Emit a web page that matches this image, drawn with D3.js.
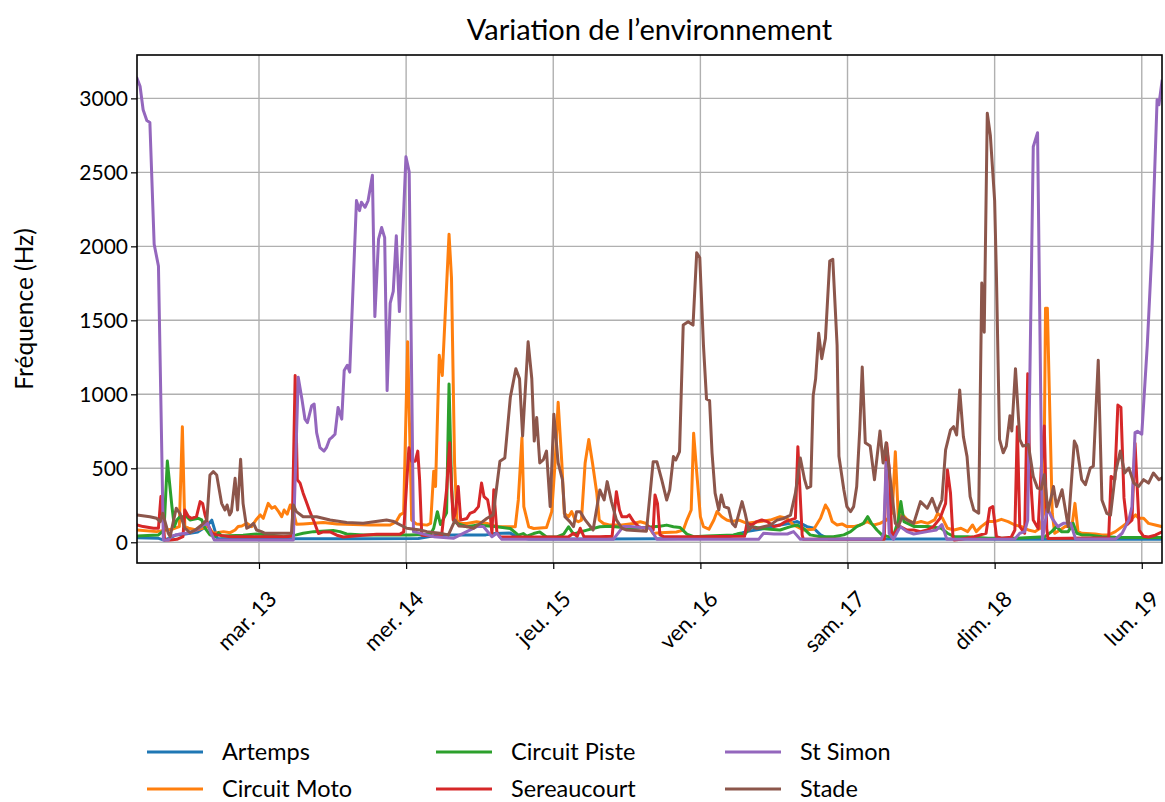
<!DOCTYPE html>
<html>
<head>
<meta charset="utf-8">
<script src="https://cdn.jsdelivr.net/npm/d3@7"></script>
<style>
body{margin:0;background:#fff;}
text{font-family:Lato,"DejaVu Sans",sans-serif;fill:#000;}
</style>
</head>
<body>
<div id="chart"></div>
<script>
// hours since lun. 12 mars 2018 00:00, value in Hz
const artemps=[[4.1,30],[7.5,28],[8.5,15],[9.5,30],[10.5,50],[12,56],[14,70],[15.5,110],[16.3,150],[16.8,80],[17.2,25],[20,22],[28,22],[30,24],[40,24],[50,26],[53,48],[56,50],[61,50],[62.5,60],[65,62],[66,38],[68,22],[80,22],[90,24],[100,30],[103.5,72],[106,90],[108,110],[110.7,128],[111.8,140],[113.4,106],[114.5,95],[115.6,50],[117,22],[130,22],[140,22],[150,20],[160,20],[171.3,20]];
const circuitMoto=[[4.1,83],[7.3,72],[10,90],[11,106],[11.5,781],[11.9,106],[12.5,95],[13.8,83],[15.7,106],[16.55,61],[18.2,72],[19.3,65],[20.1,83],[20.6,106],[21.2,110],[22,128],[22.8,106],[23.5,151],[24.2,185],[24.7,162],[25.5,263],[26.1,230],[26.6,241],[27.2,207],[27.7,173],[28.1,218],[28.6,190],[29.1,252],[29.6,207],[30.1,122],[31.2,124],[34.5,133],[36.7,124],[42.1,117],[45.4,117],[46.4,140],[47,185],[47.6,200],[48.25,1355],[48.9,150],[49.7,123],[51.4,116],[52,127],[52.5,480],[52.8,377],[53.4,1264],[53.9,1127],[54.4,1559],[55,2082],[55.4,1787],[55.9,536],[56.3,150],[56.8,127],[57.9,127],[59.5,139],[61.2,127],[62.8,105],[65.8,105],[66.3,286],[66.9,707],[67.2,241],[68,105],[68.8,93],[70.9,100],[71.75,207],[72.3,536],[72.8,946],[73.4,536],[73.8,195],[74.5,173],[75,207],[75.6,150],[76.1,139],[76.6,150],[77.2,536],[77.8,695],[78.4,536],[79.1,332],[79.5,150],[80.2,127],[81.3,116],[82.9,116],[85.1,127],[86.2,139],[87.2,127],[88.3,59],[89.4,64],[92.1,70],[93.2,82],[93.8,150],[94.5,218],[94.9,736],[95.5,423],[96,173],[96.5,106],[97.4,88],[98.2,151],[98.7,207],[99.5,173],[100.3,151],[101.2,140],[102.3,150],[103.6,128],[105.8,140],[107.4,150],[109,173],[110.1,162],[111.2,117],[112.8,83],[114.5,88],[115.6,162],[116.4,252],[116.9,218],[117.5,140],[118.3,117],[119.1,124],[119.9,106],[121,106],[122.1,117],[123.2,140],[124.3,117],[125.3,128],[126.4,151],[127.3,200],[127.8,612],[128.3,151],[128.9,190],[129.8,151],[130.9,128],[132,140],[133.1,128],[134.2,151],[134.7,196],[135.5,162],[136.3,95],[137.4,83],[138.5,95],[139.6,72],[140.4,117],[141,72],[141.8,106],[142.9,140],[144,140],[145.1,155],[146.2,140],[147.3,117],[148.4,106],[149.5,83],[150.6,72],[151.4,95],[152,195],[152.3,1582],[152.6,1582],[153,877],[153.4,195],[153.8,61],[154.7,83],[155.5,106],[156.6,106],[157.1,263],[157.6,72],[158.2,61],[160.4,56],[161.5,50],[162.6,50],[163.7,72],[164.8,106],[165.9,140],[167,185],[167.5,162],[168.3,162],[169.1,128],[170.2,117],[171.3,106]];
const circuitPiste=[[4.1,43],[7.6,50],[8.5,80],[9.05,549],[9.8,241],[10.2,106],[10.6,151],[11.1,173],[12.2,173],[12.75,151],[14.1,162],[14.65,151],[15.2,95],[16,50],[16.8,38],[17.4,65],[17.9,43],[21.4,47],[23.6,56],[25.8,50],[28,38],[30.1,50],[31.2,61],[32.9,72],[36.1,79],[37.2,72],[38.3,56],[41,50],[48.6,50],[52,55],[52.5,95],[53.1,207],[53.6,120],[54.6,200],[55,1070],[55.4,400],[55.7,150],[56.3,127],[57.9,105],[59.5,116],[62.8,105],[65,93],[66.3,48],[67.1,59],[67.7,41],[68.8,59],[69.8,70],[70.9,36],[72.6,36],[73.7,55],[74.5,105],[75.3,55],[76.4,70],[77.5,82],[79.6,105],[81.3,109],[85.1,93],[88.3,105],[89.4,109],[90.5,116],[91.6,105],[92.7,100],[93.8,55],[94.9,38],[97.1,43],[101.4,50],[102.5,61],[103.1,45],[104.2,106],[105.8,95],[107.4,88],[109,83],[110.7,106],[111.8,117],[112.8,95],[113.9,50],[115.6,38],[117.7,38],[119.4,50],[120.5,72],[121.5,106],[122.6,128],[123.3,173],[123.9,128],[124.8,83],[125.6,50],[126.7,38],[127.5,45],[128.3,150],[128.7,275],[129.2,140],[130.9,106],[133.1,106],[135.3,95],[136.3,61],[137.4,38],[139.6,38],[142.9,27],[147.3,27],[150.6,34],[152.2,38],[153.3,72],[154.1,106],[154.9,72],[156,72],[156.8,128],[157.4,61],[158.2,50],[159.3,50],[161.5,38],[163.7,34],[167,32],[171.3,32]];
const sereaucourt=[[4.1,117],[5.1,106],[6.8,95],[7.6,95],[8,309],[8.3,196],[8.6,16],[9.5,16],[10.6,20],[11.6,38],[11.9,218],[12.5,173],[13,162],[13.8,173],[14.4,275],[14.8,263],[15.2,185],[15.7,117],[16.3,61],[17.1,50],[19.3,38],[23.6,38],[28.5,38],[29.4,43],[29.9,1127],[30.25,423],[30.7,400],[31.2,332],[31.7,275],[32.3,207],[33.1,127],[33.7,59],[34.5,70],[35.6,70],[36.7,48],[37.75,36],[41,48],[43.2,55],[47,55],[47.6,70],[48.45,639],[48.9,548],[49.5,548],[49.9,616],[50.2,423],[50.55,48],[53,41],[53.8,48],[54.6,355],[55.1,673],[55.4,355],[55.7,150],[56,195],[56.5,377],[56.9,150],[57.9,161],[58.4,195],[59.1,207],[59.8,241],[60.3,400],[60.7,309],[61.3,286],[61.7,195],[62,59],[62.3,355],[62.8,70],[63.3,36],[74,36],[74.5,38],[75.3,61],[75.9,40],[76.4,95],[77,38],[79.6,38],[81.6,40],[82.3,342],[82.8,218],[83.2,173],[84,173],[84.4,185],[85.1,140],[85.9,106],[86.7,95],[87.5,106],[88.3,83],[88.6,320],[89,263],[89.4,50],[90,38],[95.9,38],[103.2,40],[103.6,128],[104.4,117],[105.2,140],[106,151],[106.9,140],[108,106],[109,117],[109.9,140],[110.7,151],[111.5,162],[111.9,646],[112.3,300],[112.6,50],[112.8,20],[126,20],[126.4,669],[126.8,500],[127.2,40],[128.6,106],[129.7,83],[130.8,83],[131.9,72],[133,83],[134,106],[135.1,162],[136,263],[136.3,489],[136.8,331],[137.2,38],[137.4,16],[138.5,20],[140.7,38],[142.6,61],[143.2,230],[143.7,241],[144.3,38],[145.1,27],[146.7,34],[147.3,83],[147.7,781],[148.1,106],[148.9,61],[149.4,1139],[149.7,536],[150.3,150],[151.1,93],[151.6,500],[152.1,786],[152.5,93],[152.7,25],[162.6,30],[163,445],[163.6,423],[164.1,927],[164.6,911],[165.1,300],[165.6,120],[166.4,150],[166.9,670],[167.6,80],[168.3,40],[169.1,36],[170.2,48],[171.3,70]];
const stSimon=[[4.1,3135],[4.6,3082],[5.1,2923],[5.7,2850],[6.2,2837],[6.9,2014],[7.6,1866],[8.4,15],[9.2,15],[9.8,43],[11.1,56],[12.7,65],[13.8,83],[14.9,117],[15.6,128],[16.2,60],[16.7,16],[29.6,16],[30.4,1116],[31,968],[31.5,832],[31.9,809],[32.6,923],[33,934],[33.4,741],[33.95,639],[34.6,616],[35,639],[35.5,695],[35.85,707],[36.4,730],[36.9,911],[37.5,832],[37.9,1161],[38.4,1196],[38.8,1150],[39.9,2309],[40.4,2241],[40.7,2298],[41.3,2264],[41.8,2309],[42.5,2480],[42.9,1525],[43.5,2048],[44,2127],[44.5,2059],[44.9,1025],[45.4,1616],[45.9,1696],[46.4,2071],[46.9,1559],[47.4,2037],[47.97,2605],[48.5,2503],[49.2,72],[52.5,38],[55.7,27],[59.5,106],[60.6,106],[62,38],[62.8,61],[63.6,20],[81.8,20],[83.4,106],[84.5,106],[87.8,95],[88.9,20],[105.5,20],[106.3,61],[108,56],[110.2,56],[111.2,72],[112.3,20],[125.5,20],[125.9,60],[126.3,540],[126.8,60],[127.5,20],[128.6,106],[129.7,72],[130.8,56],[133,72],[134.5,83],[135.4,120],[136.2,20],[147.3,22],[148.1,61],[148.9,72],[149.4,150],[150.3,2673],[151,2768],[151.8,20],[152.6,230],[153.4,160],[154.3,106],[155.2,128],[156.4,128],[157.2,22],[163.7,22],[164.8,61],[165.9,151],[166.4,241],[166.9,741],[167.3,750],[168,730],[168.9,1332],[169.7,2014],[170.5,2991],[170.8,2957],[171.3,3116]];
const stade=[[4.1,185],[6.2,173],[7.3,162],[7.9,140],[8.3,196],[9.2,61],[9.5,38],[10.5,230],[11.1,196],[11.9,95],[12.75,65],[13.6,83],[14.65,117],[15.5,151],[16,455],[16.55,477],[17.1,455],[17.9,263],[18.45,218],[18.8,252],[19.2,185],[19.5,207],[20.1,432],[20.5,218],[21,561],[21.4,263],[22,95],[22.5,106],[23.1,128],[23.6,83],[24.4,72],[25,61],[29.3,61],[29.6,252],[30.1,207],[31.2,173],[33.4,173],[35.6,151],[38.3,133],[41,128],[44.8,151],[46,140],[48.1,95],[50.3,83],[51.4,72],[53.5,61],[54.9,50],[56,151],[56.6,110],[57.9,106],[59,95],[60.1,128],[61.2,162],[62.2,185],[63.3,548],[64.1,570],[65,980],[65.9,1173],[66.5,1105],[67,718],[67.9,1355],[68.5,1105],[68.9,684],[69.3,843],[69.8,536],[70.4,559],[70.9,616],[71.5,241],[72.1,866],[72.8,536],[73.5,423],[73.9,173],[74.7,140],[75.3,106],[75.8,207],[76.4,207],[77.2,151],[78.5,83],[79.6,354],[80.3,286],[80.8,410],[81.5,275],[82.3,151],[83.2,95],[84,83],[87.2,75],[88.3,545],[88.9,545],[89.7,421],[90.5,286],[91,354],[91.6,579],[92,556],[92.6,612],[93.2,1468],[94,1491],[94.8,1468],[95.4,1957],[95.9,1923],[96.5,1332],[97,968],[97.5,957],[97.9,605],[98.4,332],[99,218],[99.4,320],[99.9,241],[100.6,230],[101.2,127],[101.7,105],[102.8,275],[103.3,195],[103.9,82],[104.4,105],[105.2,93],[106.3,105],[107.4,116],[108.5,150],[109.6,161],[110.7,184],[111.5,332],[112.3,570],[113,423],[113.4,366],[114,377],[114.4,991],[114.8,1105],[115.3,1412],[115.8,1241],[116.4,1377],[117.1,1900],[117.6,1912],[118.3,1332],[118.6,582],[119.4,355],[119.9,241],[120.5,207],[121,241],[121.5,377],[122,764],[122.4,1184],[122.9,673],[123.7,650],[124.4,423],[125.3,752],[125.8,536],[126.3,673],[127.8,128],[128.3,106],[128.9,173],[129.7,151],[130.8,128],[131.9,275],[133,230],[133.8,297],[134.6,207],[135.4,286],[136,624],[136.8,759],[137.3,781],[137.8,725],[138.3,1029],[138.9,714],[139.5,579],[140,308],[140.6,218],[141.4,196],[141.9,1752],[142.3,1420],[142.8,2900],[143.3,2750],[144,2309],[144.3,1787],[144.8,695],[145.4,605],[145.9,650],[146.5,855],[146.8,752],[147.4,1173],[148.1,695],[148.6,650],[149.5,661],[150.3,445],[151,366],[151.6,360],[152.1,457],[152.7,207],[153.6,377],[154.1,241],[155,355],[156,105],[157,684],[157.4,650],[158.2,423],[158.8,389],[159.6,502],[160.1,514],[160.9,1230],[161.5,286],[162.3,195],[162.9,184],[163.7,468],[164.5,616],[165.2,468],[165.9,502],[166.7,400],[167.5,377],[168.3,423],[169.1,400],[169.9,468],[170.8,423],[171.3,434]];

const seriesNames=["Artemps","Circuit Moto","Circuit Piste","Sereaucourt","St Simon","Stade"];
const seriesColors=["#1f77b4","#ff7f0e","#2ca02c","#d62728","#9467bd","#8c564b"];
const allSeries=[artemps,circuitMoto,circuitPiste,sereaucourt,stSimon,stade];
const yTicks=[0,500,1000,1500,2000,2500,3000];
const dayTicks=[13,14,15,16,17,18,19];
const dayLabels=["mar. 13","mer. 14","jeu. 15","ven. 16","sam. 17","dim. 18","lun. 19"];

const width=1165, height=802;
const plotL=137, plotR=1162, plotT=55, plotB=563;
const t0=Date.UTC(2018,2,12);
const toDate=h=>new Date(t0+h*3600000);

const svg=d3.select("#chart").append("svg")
	.attr("width",width)
	.attr("height",height);

const x=d3.scaleUtc()
	.domain([toDate(4.1),toDate(171.3)])
	.range([plotL,plotR]);
const y=d3.scaleLinear()
	.domain([-140,3293])
	.range([plotB,plotT]);

// grid
const grid=svg.append("g").attr("stroke","#b0b0b0").attr("stroke-width",1.4);
grid.selectAll(".gx").data(dayTicks).join("line")
	.attr("x1",d=>x(new Date(Date.UTC(2018,2,d)))).attr("x2",d=>x(new Date(Date.UTC(2018,2,d))))
	.attr("y1",plotT).attr("y2",plotB);
grid.selectAll(".gy").data(yTicks).join("line")
	.attr("x1",plotL).attr("x2",plotR)
	.attr("y1",d=>y(d)).attr("y2",d=>y(d));

svg.append("clipPath").attr("id","plotclip")
	.append("rect").attr("x",plotL).attr("y",plotT).attr("width",plotR-plotL).attr("height",plotB-plotT);

const line=d3.line()
	.x(d=>x(toDate(d[0])))
	.y(d=>y(d[1]));

svg.append("g").attr("clip-path","url(#plotclip)")
	.selectAll("path")
	.data(allSeries)
	.join("path")
	.attr("d",line)
	.attr("fill","none")
	.attr("stroke",(d,i)=>seriesColors[i])
	.attr("stroke-width",3)
	.attr("stroke-linejoin","round")
	.attr("stroke-linecap","square");

// axes
const xAxis=svg.append("g")
	.attr("transform","translate(0,"+plotB+")")
	.call(d3.axisBottom(x).tickValues(dayTicks.map(d=>new Date(Date.UTC(2018,2,d)))).tickSize(6).tickFormat((d,i)=>dayLabels[i]));
xAxis.select(".domain").remove();
xAxis.selectAll("line").attr("stroke","#000").attr("stroke-width",1.2);
xAxis.selectAll("text")
	.attr("font-size",22)
	.attr("text-anchor","end")
	.attr("transform","translate(13,32) rotate(-45)")
	.attr("x",0).attr("y",0).attr("dy","0.35em");

const yAxis=svg.append("g")
	.attr("transform","translate("+plotL+",0)")
	.call(d3.axisLeft(y).tickValues(yTicks).tickSize(6).tickPadding(3).tickFormat(d3.format("d")));
yAxis.select(".domain").remove();
yAxis.selectAll("line").attr("stroke","#000").attr("stroke-width",1.2);
yAxis.selectAll("text").attr("font-size",21);

svg.append("rect")
	.attr("x",plotL).attr("y",plotT).attr("width",plotR-plotL).attr("height",plotB-plotT)
	.attr("fill","none").attr("stroke","#000").attr("stroke-width",1.6);

svg.append("text")
	.attr("x",(plotL+plotR)/2).attr("y",40)
	.attr("text-anchor","middle").attr("font-size",29)
	.text("Variation de l’environnement");

svg.append("text")
	.attr("transform","translate(33,"+((plotT+plotB)/2)+") rotate(-90)")
	.attr("text-anchor","middle").attr("font-size",24.5)
	.text("Fréquence (Hz)");

// legend, 3 columns x 2 rows
const legend=svg.append("g");
const leg=legend.selectAll("g").data(seriesNames).join("g")
	.attr("transform",(d,i)=>"translate("+(147+Math.floor(i/2)*289)+","+(752+(i%2)*37)+")");
leg.append("line")
	.attr("x1",0).attr("x2",56).attr("y1",0).attr("y2",0)
	.attr("stroke",(d,i)=>seriesColors[i]).attr("stroke-width",3);
leg.append("text")
	.attr("x",75).attr("y",0).attr("dy","0.35em")
	.attr("font-size",23.5)
	.text(d=>d);
</script>
</body>
</html>
